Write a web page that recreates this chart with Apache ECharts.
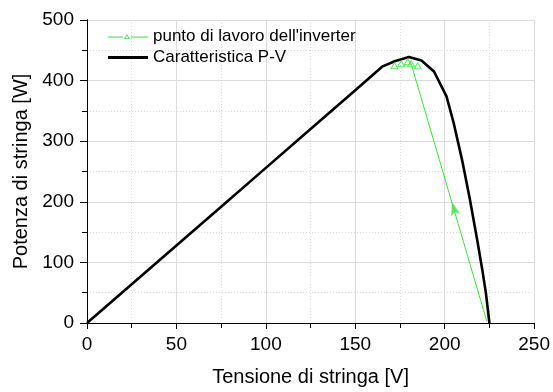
<!DOCTYPE html>
<html><head><meta charset="utf-8">
<script src="https://cdn.jsdelivr.net/npm/echarts@6/dist/echarts.min.js"></script>
<style>html,body{margin:0;padding:0;background:#fff}#c{width:553px;height:392px}</style>
</head><body><div id="c"></div>
<script>
// P-V characteristic
const pvV = [0, 25, 50, 75, 100, 125, 150, 165, 172, 180, 187, 194, 201, 205, 210, 214, 218, 221, 223, 225];
const pvP = [0, 64, 128, 192, 256, 320, 384, 423, 432, 439, 433, 415, 374, 330, 265, 205, 140, 88, 50, 0];
// inverter working points (triangles near MPP)
const wpV = [171.9, 175.6, 179.3, 181.2, 184.9];
const wpP = [424.6, 427.9, 431.0, 428.0, 424.6];
// trajectory of the working point (from open circuit up to MPP)
const trV = [223.5, 181];
const trP = [3, 430];
const arrowV = [204];
const arrowP = [200];
const xTicks = [0, 50, 100, 150, 200, 250];
const yTicks = [0, 100, 200, 300, 400, 500];

const green = '#3ee23e';
const font = 'Liberation Sans, Arial, sans-serif';
const zip = (a, b) => a.map((v, i) => [v, b[i]]);

const greenIcon = 'path://M0,6.5 L15,6.5 L15,7.5 L0,7.5 Z M23,6.5 L40,6.5 L40,7.5 L23,7.5 Z ' +
  'M19,4 L22,9.2 L16,9.2 Z M19,5.6 L17.4,8.4 L20.6,8.4 Z';
const blackIcon = 'path://M0,0 L40,0 L40,2.8 L0,2.8 Z';

const chart = echarts.init(document.getElementById('c'));
const gridLine = {show: true, lineStyle: {color: '#dcdcdc', width: 1}};
const minorLine = {show: true, lineStyle: {color: '#dcdcdc', width: 1, type: [1, 2]}};
chart.setOption({
  animation: false,
  grid: {left: 87, right: 18, top: 20, bottom: 67},
  legend: {
    left: 103, top: 23, orient: 'vertical', itemGap: 4, itemWidth: 40, itemHeight: 14,
    textStyle: {fontFamily: font, fontSize: 17, color: '#000'},
    data: [
      {name: "punto di lavoro dell'inverter", icon: greenIcon, itemStyle: {color: green}},
      {name: 'Caratteristica P-V', icon: blackIcon, itemStyle: {color: '#000'}}
    ]
  },
  xAxis: [{
    type: 'value', min: xTicks[0], max: xTicks[xTicks.length - 1], interval: 50,
    name: 'Tensione di stringa [V]', nameLocation: 'middle', nameGap: 44,
    nameTextStyle: {fontFamily: font, fontSize: 20, color: '#000'},
    axisLine: {show: true, onZero: false, lineStyle: {color: '#000', width: 1}},
    axisTick: {show: true, inside: false, length: 6, lineStyle: {color: '#000'}},
    minorTick: {show: true, splitNumber: 2, length: 4, lineStyle: {color: '#000'}},
    axisLabel: {fontFamily: font, fontSize: 19, color: '#000', margin: 12},
    splitLine: gridLine, minorSplitLine: minorLine
  }, {
    type: 'value', position: 'top', min: 0, max: 250, interval: 25,
    axisLine: {show: true, lineStyle: {color: '#000', width: 1}},
    axisTick: {show: true, inside: true, length: 5, lineStyle: {color: '#000'}},
    axisLabel: {show: false}, splitLine: {show: false}
  }],
  yAxis: [{
    type: 'value', min: yTicks[0], max: yTicks[yTicks.length - 1], interval: 100,
    name: 'Potenza di stringa [W]', nameLocation: 'middle', nameGap: 48, nameRotate: 90,
    nameTextStyle: {fontFamily: font, fontSize: 20, color: '#000'},
    axisLine: {show: true, onZero: false, lineStyle: {color: '#000', width: 1}},
    axisTick: {show: true, inside: false, length: 7, lineStyle: {color: '#000'}},
    minorTick: {show: true, splitNumber: 2, length: 5, lineStyle: {color: '#000'}},
    axisLabel: {fontFamily: font, fontSize: 19, color: '#000', margin: 13},
    splitLine: gridLine, minorSplitLine: minorLine
  }, {
    type: 'value', position: 'right', min: 0, max: 500, interval: 50,
    axisLine: {show: true, lineStyle: {color: '#000', width: 1}},
    axisTick: {show: true, inside: true, length: 5, lineStyle: {color: '#000'}},
    axisLabel: {show: false}, splitLine: {show: false}
  }],
  series: [
    {
      name: "punto di lavoro dell'inverter", type: 'line', data: zip(trV, trP),
      symbol: 'none', z: 4,
      lineStyle: {color: green, width: 1}, itemStyle: {color: green}
    },
    {
      name: 'Caratteristica P-V', type: 'line', data: zip(pvV, pvP),
      symbol: 'none', z: 3,
      lineStyle: {color: '#000', width: 2.6}, itemStyle: {color: '#000'}
    },
    {
      name: 'wp', type: 'scatter', data: zip(wpV, wpP),
      symbol: 'triangle', symbolSize: [7, 6], z: 5,
      itemStyle: {color: 'rgba(0,0,0,0)', borderColor: green, borderWidth: 1}
    },
    {
      name: 'arrow', type: 'scatter', data: zip(arrowV, arrowP),
      symbol: 'arrow', symbolSize: [7, 14], symbolRotate: 16, z: 5,
      itemStyle: {color: green}
    }
  ]
});
</script>
</body></html>
